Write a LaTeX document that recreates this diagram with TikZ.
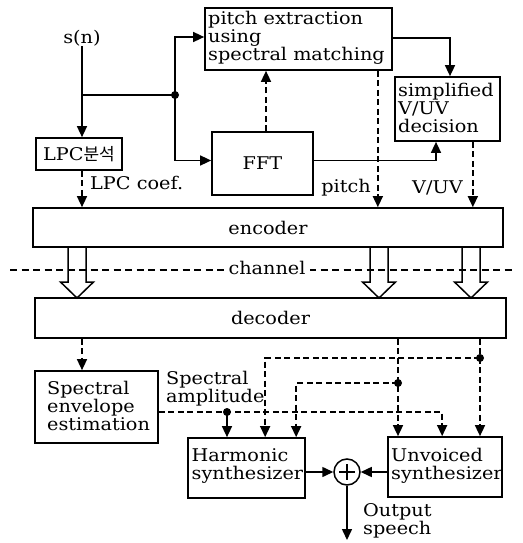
\documentclass[tikz,border=0pt]{standalone}
\usepackage{fontspec}
\setmainfont[FakeStretch=1.1]{DejaVu Serif}
\newfontfamily\krfont{Noto Sans CJK KR}
\usetikzlibrary{arrows.meta,calc}
\begin{document}
\begin{tikzpicture}[x=1pt,y=-1pt,
  box/.style={draw,line width=1.7pt,inner sep=0pt,font=\fontsize{17.5}{18}\selectfont},
  txt/.style={font=\fontsize{17.5}{18}\selectfont,inner sep=0pt,align=left},
  ln/.style={line width=1.5pt},
  dsh/.style={line width=1.5pt,dash pattern=on 6pt off 3.5pt},
  arr/.style={-{Triangle[length=11pt,width=10pt]}},
  dot/.style={circle,fill,inner sep=0pt,minimum size=8pt},
  hollow/.style={draw,line width=1.5pt,line join=miter}
]
\useasboundingbox (0,0) rectangle (522,543);

% boxes
\node[box,minimum width=187pt,minimum height=62pt] (pitch) at (298.5,39) {};
\node[txt,anchor=west] (pitchT) at (208,37.5) {pitch extraction\\using\\spectral matching};
\node[box,minimum width=105pt,minimum height=64pt] (vuv) at (447.5,109) {};
\node[txt,anchor=west] (vuvT) at (398,108) {simplified\\V/UV\\decision};
\node[box,minimum width=101pt,minimum height=63pt] (fft) at (262.5,163.5) {FFT};
\node[box,minimum width=86pt,minimum height=32pt] (lpc) at (79,154) {LPC{\krfont\fontsize{17}{18}\selectfont 분석}};
\node[box,minimum width=470pt,minimum height=39pt] (enc) at (268,227.5) {encoder};
\node[box,minimum width=471pt,minimum height=40pt] (dec) at (270.5,318) {decoder};
\node[box,minimum width=123pt,minimum height=72pt] (env) at (96.5,407) {};
\node[txt,anchor=west] (envT) at (47,406) {Spectral\\envelope\\estimation};
\node[box,minimum width=117pt,minimum height=60pt] (harm) at (246.5,468) {};
\node[txt,anchor=west] (harmT) at (191.5,466) {Harmonic\\synthesizer};
\node[box,minimum width=114pt,minimum height=60pt] (unv) at (445,467) {};
\node[txt,anchor=west] (unvT) at (391,466) {Unvoiced\\synthesizer};
\node[circle,draw,line width=1.5pt,minimum size=26pt,inner sep=0pt] (sum) at (347,472) {};
\draw[line width=1.1pt] ($(sum)+(-8,0)$) -- ($(sum)+(8,0)$) ($(sum)+(0,-8)$) -- ($(sum)+(0,8)$);

% labels
\node[txt] (sn) at (82,38) {s(n)};
\node[txt,anchor=west] (lpcL) at (90,183) {LPC coef.};
\node[txt,anchor=east] (pitchL) at (371,188) {pitch};
\node[txt,anchor=west] (vuvL) at (412,188) {V/UV};
\node[txt,anchor=west] (ampL) at (166,389) {Spectral\\amplitude};
\node[txt,anchor=west] (outL) at (363,521) {Output\\speech};

% top connectors
\node[dot] (d1) at (175,95) {};
\coordinate (j1) at (sn |- d1);
\draw[ln,arr] (sn.south) -- (sn |- lpc.north);
\draw[ln] (j1) -- (d1.center);
\draw[ln,arr] (d1.center) |- ($(pitch.west)+(0,-2)$);
\draw[ln,arr] (d1.center) |- ($(fft.west)+(0,-3)$);
\draw[ln,arr] ($(pitch.east)+(0,-1)$) -| ($(vuv.north)+(2.5,0)$);
\draw[ln,arr] ($(fft.east)+(0,-3)$) -| ($(vuv.south)+(-11.5,0)$);
\coordinate (fA) at ($(fft.north)+(3.5,0)$);
\draw[dsh,arr] (fA) -- (fA |- pitch.south);
\coordinate (pA) at ($(pitch.south east)+(-15,0)$);
\draw[dsh,arr] (pA) -- (pA |- enc.north);
\coordinate (vA) at ($(vuv.south east)+(-28,0)$);
\draw[dsh,arr] (vA) -- (vA |- enc.north);
\draw[dsh,arr] (sn |- lpc.south) -- (sn |- enc.north);

% channel
\foreach \c in {77,379,471}
  \draw[hollow] (\c-9,247) -- (\c-9,282) -- (\c-16.5,282) -- (\c,298) -- (\c+16.5,282) -- (\c+9,282) -- (\c+9,247);
\draw[line width=1.3pt,dash pattern=on 7pt off 4.5pt] (10,270) -- (516,270);
\node[txt,fill=white,inner xsep=4pt,inner ysep=1pt] (ch) at (267,268) {channel};

% bottom connectors
\draw[dsh,arr] (sn |- dec.south) -- (sn |- env.north);
\node[dot] (d2) at (398,383) {};
\node[dot] (d3) at (480,358) {};
\node[dot] (d4) at (227,412) {};
\draw[dsh,arr] (d2 |- dec.south) -- (d2 |- unv.north);
\draw[dsh,arr] (d3 |- dec.south) -- (d3 |- unv.north);
\draw[dsh,arr] (d3.center) -| ($(harm.north west)+(78,0)$);
\draw[dsh,arr] (d2.center) -| ($(harm.north west)+(109,0)$);
\draw[dsh,arr] (env.east |- d4) -| ($(unv.north west)+(55,0)$);
\draw[ln,arr] (d4.center) -- (d4 |- harm.north);
\draw[ln,arr] (harm.east |- sum) -- (sum.west);
\draw[ln,arr] (unv.west |- sum) -- (sum.east);
\coordinate (out) at (347,540);
\draw[ln,arr] (sum.south) -- (out);
\end{tikzpicture}
\end{document}
